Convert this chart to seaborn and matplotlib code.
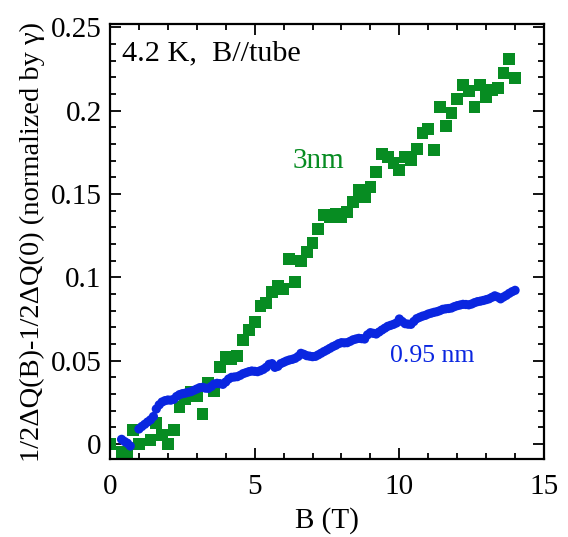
import numpy as np
import pandas as pd
import matplotlib
matplotlib.use("Agg")
import matplotlib.pyplot as plt
import seaborn as sns
from matplotlib.ticker import MultipleLocator, FuncFormatter

# ---- data ----
green_B = [0.0, 0.4, 0.6, 0.8, 1.0, 1.4, 1.6, 1.8, 2.0, 2.2, 2.4, 2.6, 2.8, 3.0, 3.2, 3.4,
           3.6, 3.8, 4.0, 4.2, 4.4, 4.6, 4.8, 5.0, 5.2, 5.4, 5.6, 5.8, 6.0, 6.2, 6.4, 6.6,
           6.8, 7.0, 7.2, 7.4, 7.6, 7.8, 8.0, 8.2, 8.4, 8.6, 8.8, 9.0, 9.2, 9.4, 9.6, 9.8,
           10.0, 10.2, 10.4, 10.6, 10.8, 11.0, 11.2, 11.4, 11.6, 11.8, 12.0, 12.2, 12.4,
           12.6, 12.8, 13.0, 13.2, 13.4, 13.6, 13.8, 14.0]
green_val = [0.0, -0.005, -0.0066, 0.0084, 0.0, 0.0024, 0.0128, 0.0056, 0.0, 0.0084, 0.0224,
             0.0268, 0.0314, 0.029, 0.0178, 0.0364, 0.032, 0.0462, 0.0522, 0.0508, 0.053,
             0.0624, 0.0684, 0.073, 0.0828, 0.0848, 0.0912, 0.0948, 0.093, 0.111, 0.0974,
             0.110, 0.1154, 0.1204, 0.1288, 0.1374, 0.136, 0.138, 0.1364, 0.139, 0.145,
             0.1524, 0.148, 0.154, 0.163, 0.1742, 0.1724, 0.1684, 0.1644, 0.1724, 0.1704,
             0.1768, 0.1868, 0.189, 0.1764, 0.2024, 0.1908, 0.1988, 0.2068, 0.2152, 0.212,
             0.2024, 0.2152, 0.2084, 0.2124, 0.2136, 0.2228, 0.2308, 0.2198]

blue_B = [0.4, 0.5, 0.6, 0.7,
          1.0, 1.1, 1.2, 1.3, 1.4, 1.5, 1.6, 1.7, 1.8, 1.9, 2.0, 2.1, 2.2, 2.3, 2.4, 2.5,
          2.6, 2.7, 2.8, 2.9, 3.0, 3.1, 3.2, 3.3, 3.4, 3.5, 3.6, 3.7, 3.8, 3.9, 4.0, 4.1,
          4.2, 4.3, 4.4, 4.5, 4.6, 4.7, 4.8, 4.9, 5.0, 5.1, 5.2, 5.3, 5.4, 5.5, 5.6, 5.7,
          5.8, 5.9, 6.0, 6.1, 6.2, 6.3, 6.4, 6.5, 6.6, 6.7, 6.8, 6.9, 7.0, 7.1, 7.2, 7.3,
          7.4, 7.5, 7.6, 7.7, 7.8, 7.9, 8.0, 8.1, 8.2, 8.3, 8.4, 8.5, 8.6, 8.7, 8.8, 8.9,
          9.0, 9.1, 9.2, 9.3, 9.4, 9.5, 9.6, 9.7, 9.8, 9.9, 10.0, 10.1, 10.2, 10.3, 10.4,
          10.5, 10.6, 10.7, 10.8, 10.9, 11.0, 11.1, 11.2, 11.3, 11.4, 11.5, 11.6, 11.7,
          11.8, 11.9, 12.0, 12.1, 12.2, 12.3, 12.4, 12.5, 12.6, 12.7, 12.8, 12.9, 13.0,
          13.1, 13.2, 13.3, 13.4, 13.5, 13.6, 13.7, 13.8, 13.9, 14.0]
blue_val = [0.0028, 0.0015, 0.0005, -0.0012,
            0.0090, 0.0105, 0.0118, 0.0132, 0.0145, 0.0165, 0.0210, 0.0235, 0.0252, 0.0260,
            0.0264, 0.0263, 0.0268, 0.0285, 0.0296, 0.0302, 0.0305, 0.0310, 0.0314, 0.0322,
            0.0330, 0.0338, 0.0340, 0.0335, 0.0334, 0.0345, 0.0360, 0.0364, 0.0362, 0.0358,
            0.0372, 0.0390, 0.0400, 0.0402, 0.0404, 0.0412, 0.0422, 0.0428, 0.0434, 0.0438,
            0.0436, 0.0434, 0.0440, 0.0448, 0.0460, 0.0478, 0.0482, 0.0460, 0.0466, 0.0482,
            0.0490, 0.0498, 0.0504, 0.0508, 0.0514, 0.0525, 0.0544, 0.0538, 0.0530, 0.0527,
            0.0524, 0.0526, 0.0535, 0.0545, 0.0555, 0.0564, 0.0574, 0.0584, 0.0592, 0.0602,
            0.0608, 0.0607, 0.0608, 0.0616, 0.0625, 0.0630, 0.0634, 0.0632, 0.0630, 0.0655,
            0.0668, 0.0664, 0.0660, 0.0672, 0.0684, 0.0695, 0.0706, 0.0712, 0.0718, 0.0726,
            0.0750, 0.0735, 0.0722, 0.0719, 0.0718, 0.0735, 0.0752, 0.0760, 0.0767, 0.0772,
            0.0780, 0.0785, 0.0790, 0.0794, 0.0800, 0.0808, 0.0811, 0.0813, 0.0816, 0.0824,
            0.0830, 0.0834, 0.0838, 0.0837, 0.0835, 0.0840, 0.0848, 0.0854, 0.0857, 0.0861,
            0.0866, 0.0871, 0.0880, 0.0889, 0.0882, 0.0871, 0.0882, 0.0892, 0.0904, 0.0914,
            0.0922]

GREEN = "#078c22"
BLUE = "#0a26e0"

sns.set_theme(style="ticks")
plt.rcParams["font.family"] = ["Liberation Serif", "DejaVu Serif"]
plt.rcParams["mathtext.fontset"] = "stix"

fig = plt.figure(figsize=(5.68, 5.37), dpi=100)
ax = fig.add_axes([110 / 568, 1 - 459 / 537, (544 - 110) / 568, (459 - 24) / 537])

df_g = pd.DataFrame({"B": green_B, "v": green_val})
df_b = pd.DataFrame({"B": blue_B, "v": blue_val})

sns.scatterplot(data=df_b, x="B", y="v", ax=ax, marker="o", s=44, color=BLUE,
                edgecolor="none", linewidth=0, zorder=3)
sns.scatterplot(data=df_g, x="B", y="v", ax=ax, marker="s", s=72, color=GREEN,
                edgecolor="none", linewidth=0, zorder=2)

ax.set_xlim(0, 15)
ax.set_ylim(-0.009, 0.252)
ax.xaxis.set_major_locator(MultipleLocator(5))
ax.xaxis.set_minor_locator(MultipleLocator(1))
ax.yaxis.set_major_locator(MultipleLocator(0.05))
ax.yaxis.set_minor_locator(MultipleLocator(0.01))
ax.xaxis.set_major_formatter(FuncFormatter(lambda v, p: f"{v:g}"))
ax.yaxis.set_major_formatter(FuncFormatter(lambda v, p: f"{round(v, 3):g}"))

ax.tick_params(which="both", direction="in", top=True, right=True, width=1.3,
               labelsize=21, colors="black")
ax.tick_params(axis="x", which="major", length=8, pad=11)
ax.tick_params(axis="y", which="major", length=8, pad=6)
ax.tick_params(which="minor", length=4.5)
for sp in ax.spines.values():
    sp.set_linewidth(1.6)
    sp.set_color("black")
    sp.set_visible(True)

ax.set_xlabel("B (T)", fontsize=21, labelpad=5, color="black")
ax.set_ylabel("1/2ΔQ(B)-1/2ΔQ(0) (normalized by γ)", fontsize=20.5, labelpad=4,
              color="black")

ax.text(0.027, 0.962, "4.2 K,  B//tube", transform=ax.transAxes, fontsize=21.8,
        ha="left", va="top", color="black")
ax.text(7.2, 0.170, "3nm", fontsize=21, color=GREEN, ha="center", va="center")
ax.text(11.15, 0.0528, "0.95 nm", fontsize=18.5, color=BLUE, ha="center", va="center")

fig.savefig("out.png", dpi=100)
